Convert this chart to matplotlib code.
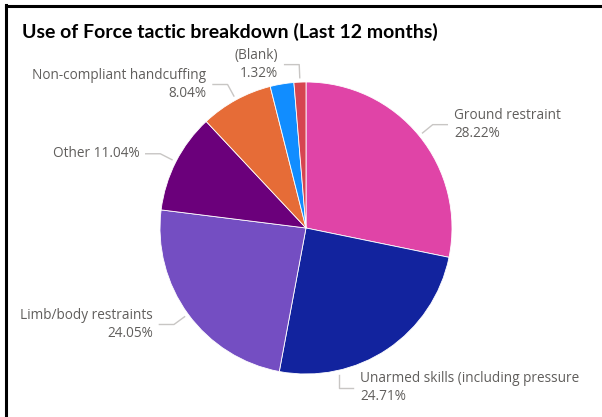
import numpy as np
import matplotlib
matplotlib.use("Agg")
import matplotlib.pyplot as plt
from matplotlib.lines import Line2D

# Tactic shares (%), clockwise from 12 o'clock
categories = [
    "Ground restraint",
    "Unarmed skills (including pressure",
    "Limb/body restraints",
    "Other",
    "Non-compliant handcuffing",
    "",
    "(Blank)",
]
values = [28.22, 24.71, 24.05, 11.04, 8.04, 2.62, 1.32]
colors = ["#E044A7", "#12239E", "#744EC2", "#6B007B", "#E66C37", "#118DFF", "#D64550"]

# label styling: where along the wedge the leader starts, which side, single/multi-line
anchor_frac = [0.5, 0.74, 0.5, 0.5, 0.5, 0.5, 0.5]
one_line = [False, False, False, True, False, False, False]
vertical_leader = [False, True, False, False, False, True, False]

W, H = 602, 417
fig = plt.figure(figsize=(W / 100, H / 100), dpi=100)
fig.patch.set_facecolor("white")

# pie axes: centre (306, 228) px, radius 146 px
cx, cy, R = 306, 228, 146
ax = fig.add_axes([(cx - R) / W, (H - cy - R) / H, 2 * R / W, 2 * R / H])

wedges, _ = ax.pie(values, colors=colors, startangle=90, counterclock=False,
                   radius=1.0, wedgeprops=dict(edgecolor="white", linewidth=0.6))
ax.set_xlim(-1, 1)
ax.set_ylim(-1, 1)
ax.set_aspect("equal")
ax.axis("off")

font = ["Segoe UI", "Open Sans", "DejaVu Sans"]
txt_color = "#605E5C"
line_color = "#C8C6C4"
fs = 9.8

total = sum(values)
cum = 0.0
r1, r2, seg, gap = 1.03, 1.12, 0.10, 0.045
for i, (name, v) in enumerate(zip(categories, values)):
    start = cum
    cum += v
    if not name:
        continue
    frac = (start + anchor_frac[i] * v) / total
    ang = np.deg2rad(90 - 360 * frac)
    x1, y1 = r1 * np.cos(ang), r1 * np.sin(ang)
    if vertical_leader[i]:
        x2, y2 = x1, r2 * np.sin(ang)
    else:
        x2, y2 = r2 * np.cos(ang), r2 * np.sin(ang)
    side = 1 if np.cos(ang) > 0 else -1
    x3 = x2 + side * seg
    ax.add_line(Line2D([x1, x2, x3], [y1, y2, y2], color=line_color, lw=1.0,
                       clip_on=False))
    pct = f"{v:.2f}%"
    label = f"{name} {pct}" if one_line[i] else f"{name}\n{pct}"
    ha = "left" if side > 0 else "right"
    ax.text(x3 + side * gap, y2, label, ha=ha, va="center", multialignment=ha,
            fontsize=fs, color=txt_color, family=font, linespacing=1.3,
            clip_on=False)

fig.text(22 / W, 1 - 32 / H, "Use of Force tactic breakdown (Last 12 months)",
         ha="left", va="center", fontsize=14.0, fontweight="bold", color="black",
         family=["Lato", "DejaVu Sans"])

# visual frame: top and left border
fig.add_artist(Line2D([5.5 / W, 1.0], [1 - 6 / H, 1 - 6 / H], color="black", lw=2.2,
                      transform=fig.transFigure))
fig.add_artist(Line2D([6 / W, 6 / W], [0, 1 - 5 / H], color="black", lw=2.2,
                      transform=fig.transFigure))

fig.savefig("out.png", dpi=100)
